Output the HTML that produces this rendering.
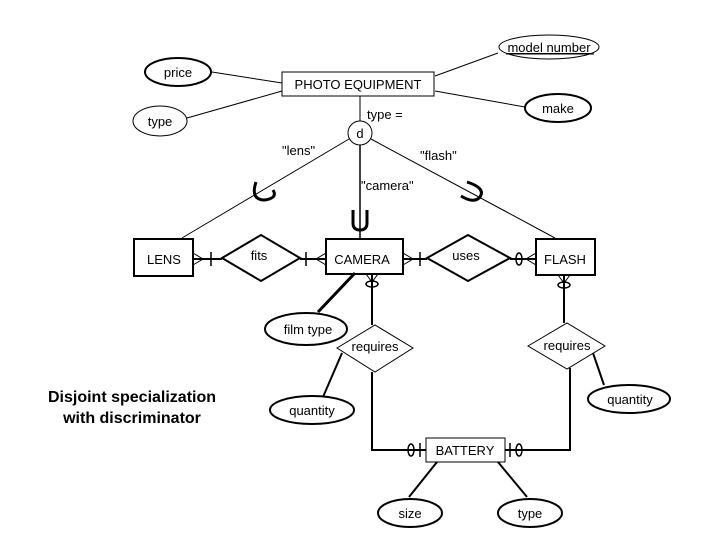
<!DOCTYPE html>
<html><head><meta charset="utf-8"><style>
html,body{margin:0;padding:0;background:#fff;}
svg{display:block;}
text{font-family:"Liberation Sans",Arial,sans-serif;font-size:13px;fill:#000;}
</style></head><body>
<svg width="720" height="540" viewBox="0 0 720 540" xmlns="http://www.w3.org/2000/svg">
<g stroke="#000" fill="none">
<!-- top attributes -->
<line x1="212" y1="72" x2="282" y2="83" stroke-width="1"/>
<line x1="187" y1="118" x2="282" y2="91" stroke-width="1"/>
<line x1="435" y1="76" x2="498" y2="53" stroke-width="1"/>
<line x1="435" y1="91" x2="525" y2="107" stroke-width="1"/>
<ellipse cx="549" cy="47" rx="50" ry="12" stroke-width="1"/>
<ellipse cx="178" cy="72" rx="33" ry="14" stroke-width="2"/>
<ellipse cx="160" cy="121" rx="27" ry="15" stroke-width="1"/>
<ellipse cx="558" cy="108" rx="33" ry="14" stroke-width="2"/>
<rect x="282" y="72" width="152" height="24" stroke-width="1"/>
<line x1="360" y1="96" x2="360" y2="121" stroke-width="1"/>
<circle cx="360" cy="133" r="12" stroke-width="1"/>
<line x1="349" y1="139" x2="182" y2="238" stroke-width="1"/>
<line x1="360" y1="145" x2="360" y2="239" stroke-width="1.5"/>
<line x1="371" y1="139" x2="555" y2="238" stroke-width="1"/>
<!-- subset U symbols -->
<path d="M256,182 Q250,200 265,200 Q278,198 273,190" stroke-width="3"/>
<path d="M353,210 L353,223 Q353,230 360,230 Q367,230 367,223 L367,210" stroke-width="3"/>
<path d="M467,182 Q486,188 480,197 Q474,204 461,196" stroke-width="3"/>
<!-- entities -->
<rect x="134" y="239" width="59" height="37" stroke-width="2"/>
<rect x="326" y="239" width="77" height="35" stroke-width="2"/>
<rect x="536" y="239" width="59" height="36" stroke-width="2"/>
<polygon points="222,258 261,235 300,258 261,281" stroke-width="2"/>
<polygon points="427,258 468,235 510,258 468,281" stroke-width="2"/>
<!-- main row connectors -->
<line x1="193" y1="259" x2="222" y2="259" stroke-width="2"/>
<line x1="300" y1="259" x2="326" y2="259" stroke-width="2"/>
<line x1="403" y1="259" x2="427" y2="259" stroke-width="2"/>
<line x1="510" y1="259" x2="536" y2="259" stroke-width="2"/>
<!-- crow feet -->
<path d="M193,253 L203,259 L193,265" stroke-width="1"/>
<line x1="211" y1="252" x2="211" y2="266" stroke-width="1.5"/>
<path d="M326,253 L316,259 L326,265" stroke-width="1"/>
<line x1="306" y1="252" x2="306" y2="266" stroke-width="1.5"/>
<path d="M403,253 L413,259 L403,265" stroke-width="1"/>
<line x1="420" y1="252" x2="420" y2="266" stroke-width="1.5"/>
<path d="M536,253 L526,259 L536,265" stroke-width="1"/>
<ellipse cx="519" cy="259" rx="3" ry="6" stroke-width="1.5"/>
<!-- film type -->
<line x1="355" y1="273" x2="318" y2="312" stroke-width="3"/>
<ellipse cx="306" cy="329" rx="41" ry="16" stroke-width="2"/>
<!-- camera - requires -->
<path d="M366,274 L372,282 L378,274" stroke-width="1"/>
<line x1="372" y1="274" x2="372" y2="325" stroke-width="2"/>
<ellipse cx="372" cy="284" rx="6" ry="3" stroke-width="1.5"/>
<polygon points="337,348 375,325 413,348 375,372" stroke-width="1"/>
<line x1="342" y1="353" x2="323" y2="397" stroke-width="2"/>
<ellipse cx="312" cy="410" rx="42" ry="14" stroke-width="2"/>
<polyline points="372,372 372,450 426,450" stroke-width="2"/>
<!-- flash - requires -->
<path d="M558,275 L564,283 L570,275" stroke-width="1"/>
<line x1="564" y1="275" x2="564" y2="323" stroke-width="2"/>
<ellipse cx="564" cy="285" rx="6" ry="3" stroke-width="1.5"/>
<polygon points="528,346 567,323 605,346 567,369" stroke-width="1"/>
<line x1="593" y1="353" x2="604" y2="385" stroke-width="2"/>
<ellipse cx="629" cy="399" rx="41" ry="14" stroke-width="2"/>
<polyline points="570,368 570,450 505,450" stroke-width="2"/>
<!-- battery -->
<rect x="426" y="438" width="79" height="24" stroke-width="1"/>
<ellipse cx="411" cy="450" rx="3" ry="6" stroke-width="1.5"/>
<line x1="420" y1="443" x2="420" y2="457" stroke-width="1.5"/>
<line x1="510" y1="443" x2="510" y2="457" stroke-width="1.5"/>
<ellipse cx="519" cy="450" rx="3" ry="6" stroke-width="1.5"/>
<line x1="437" y1="462" x2="409" y2="497" stroke-width="2"/>
<line x1="498" y1="462" x2="527" y2="497" stroke-width="2"/>
<ellipse cx="410" cy="513" rx="32" ry="14" stroke-width="2"/>
<ellipse cx="530" cy="513" rx="32" ry="14" stroke-width="2"/>
</g>
<text x="549" y="52" text-anchor="middle" text-decoration="underline">model number</text>
<line x1="506" y1="54" x2="594" y2="54" stroke="#000" stroke-width="1"/>
<text x="178" y="77" text-anchor="middle">price</text>
<text x="160" y="126" text-anchor="middle">type</text>
<text x="558" y="113" text-anchor="middle">make</text>
<text x="358" y="89" text-anchor="middle">PHOTO EQUIPMENT</text>
<text x="367" y="119">type =</text>
<text x="360" y="138" text-anchor="middle">d</text>
<text x="282" y="155">"lens"</text>
<text x="420" y="160">"flash"</text>
<text x="361" y="190">"camera"</text>
<text x="164" y="264" text-anchor="middle">LENS</text>
<text x="259" y="260" text-anchor="middle">fits</text>
<text x="362" y="264" text-anchor="middle">CAMERA</text>
<text x="466" y="260" text-anchor="middle">uses</text>
<text x="565" y="264" text-anchor="middle">FLASH</text>
<text x="308" y="334" text-anchor="middle">film type</text>
<text x="375" y="351" text-anchor="middle">requires</text>
<text x="567" y="350" text-anchor="middle">requires</text>
<text x="312" y="415" text-anchor="middle">quantity</text>
<text x="630" y="404" text-anchor="middle">quantity</text>
<text x="465" y="455" text-anchor="middle">BATTERY</text>
<text x="410" y="518" text-anchor="middle">size</text>
<text x="530" y="518" text-anchor="middle">type</text>
<text x="132" y="402" text-anchor="middle" style="font-size:16px;font-weight:bold">Disjoint specialization</text>
<text x="132" y="423" text-anchor="middle" style="font-size:16px;font-weight:bold">with discriminator</text>
</svg>
</body></html>
